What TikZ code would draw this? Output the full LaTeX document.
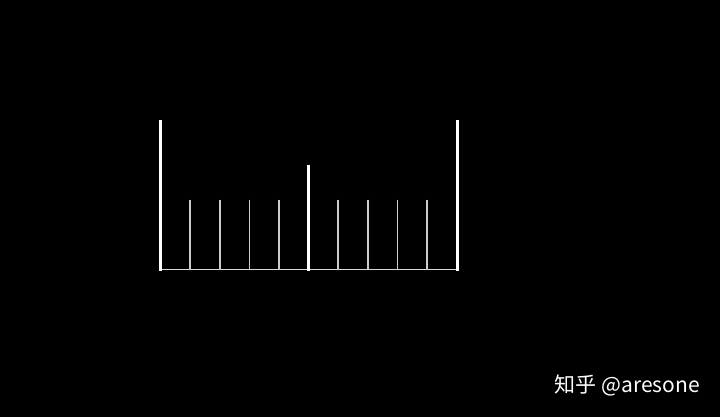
\documentclass[tikz,border=0pt]{standalone}
\usepackage{fontspec}
\newfontfamily\cjk{Noto Sans CJK SC}
\begin{document}
\begin{tikzpicture}[x=1pt,y=-1pt,
  bigline/.style={draw=white,line width=3pt},
  tickline/.style={draw=white!80!black,line width=1.1pt},
  baseline/.style={draw=white!85!black,line width=1.5pt}]
\fill[black] (0,0) rectangle (720,417);
\useasboundingbox (0,0) rectangle (720,417);
\draw[baseline] (160.5,269.5) -- (457.5,269.5);
\foreach \x in {190,220,249.5,279,338,368,397.5,427}
  \draw[tickline] (\x,199.5) -- (\x,269.5);
\draw[bigline] (160.5,120.5) -- (160.5,270.5);
\draw[bigline] (457.5,120.5) -- (457.5,270.5);
\draw[bigline] (308.5,164.5) -- (308.5,270.5);
\node[text=white,font=\cjk\fontsize{21}{24}\selectfont,anchor=east,inner sep=0pt] (wm) at (700,385) {知乎 @aresone};
\end{tikzpicture}
\end{document}
